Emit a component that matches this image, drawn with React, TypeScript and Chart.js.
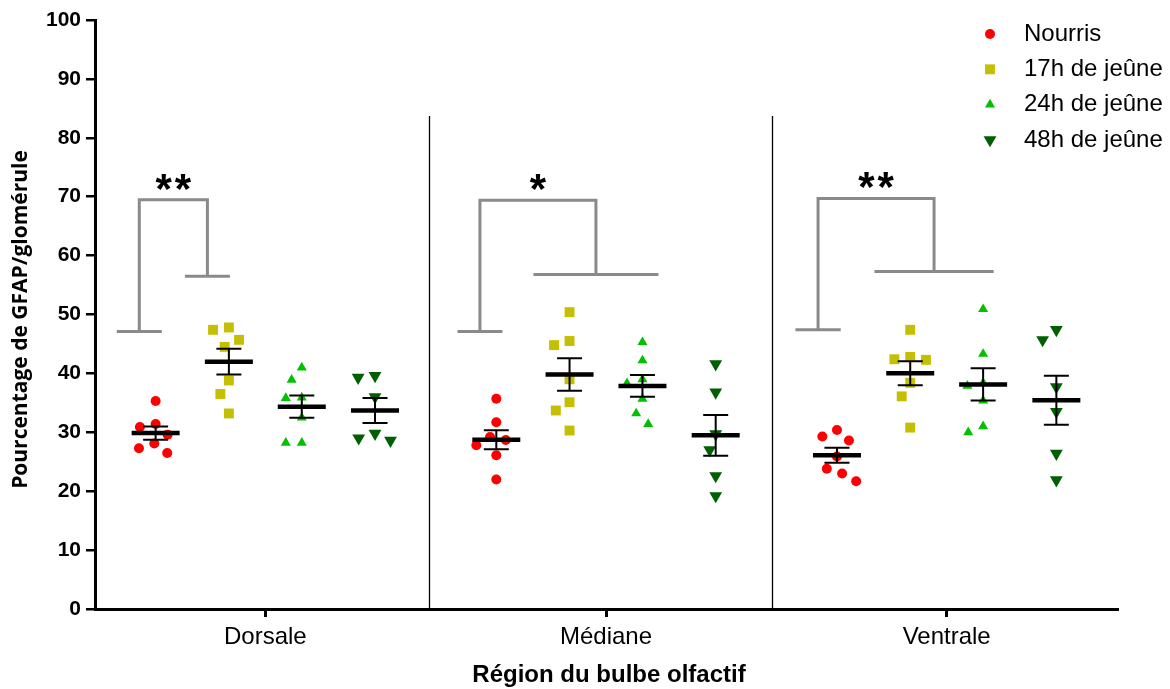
import React, { useEffect, useRef } from 'react';
import { Chart, registerables } from 'chart.js';

Chart.register(...registerables);

// ---------- data ----------
const regions = ['Dorsale', 'Médiane', 'Ventrale'];
const seriesNames = ['Nourris', '17h de jeûne', '24h de jeûne', '48h de jeûne'];

// values per region: [Dorsale, Médiane, Ventrale]
const nourris = [
  [35.3, 31.4, 30.9, 29.6, 28.1, 27.3, 26.5],
  [35.7, 31.7, 29.2, 28.7, 27.8, 26.1, 22.0],
  [30.4, 29.3, 28.6, 25.9, 23.8, 23.0, 21.7],
];
const jeune17h = [
  [47.8, 47.4, 45.7, 44.5, 38.8, 36.5, 33.2],
  [50.4, 45.5, 44.8, 39.0, 35.1, 33.7, 30.3],
  [47.4, 42.8, 42.4, 42.3, 38.4, 36.1, 30.8],
];
const jeune24h = [
  [41.0, 38.9, 35.9, 35.8, 32.5, 28.2, 28.2],
  [45.3, 42.2, 39.0, 38.3, 35.7, 33.2, 31.4],
  [50.9, 43.3, 38.4, 37.9, 35.4, 31.0, 30.0],
];
const jeune48h = [
  [39.6, 39.3, 36.0, 29.8, 29.0, 28.6],
  [41.6, 36.8, 29.7, 27.0, 22.6, 19.2],
  [47.4, 45.7, 37.7, 33.5, 26.4, 21.9],
];

const yTicks = [0, 10, 20, 30, 40, 50, 60, 70, 80, 90, 100];

// significance brackets (one per region)
const significance = ['**', '*', '**'];
const bracketTop = [69.5, 69.4, 69.7];
const bracketLeftFoot = [47.1, 47.1, 47.4];
const bracketRightFoot = [56.5, 56.8, 57.3];
const bracketLeftFootX = [[0.064, 0.196], [1.064, 1.196], [2.056, 2.189]];
const bracketRightFootX = [[0.264, 0.396], [1.287, 1.654], [2.288, 2.638]];

// ---------- styles / layout ----------
const COLORS = ['#ff0000', '#c4bf00', '#00c000', '#005f00'];
const STYLES = [
  { style: 'circle', rotation: 0, radius: 5 },
  { style: 'rect', rotation: 0, radius: 7 },
  { style: 'triangle', rotation: 0, radius: 5.8 },
  { style: 'triangle', rotation: 180, radius: 7.4 },
];
const GROUP_OFFSETS = [-0.322, -0.107, 0.107, 0.322];
const SWARM_D = [16, 16, 16, 17];
const SEPARATORS = [0.981, 1.987];
const SEPARATOR_TOP = 83.7;
const FONT = "'Liberation Sans', Arial, sans-serif";
const BRACKET_COLOR = '#8a8a8a';

function meanSem(vals: number[]) {
  const n = vals.length;
  const m = vals.reduce((a, b) => a + b, 0) / n;
  const sd = Math.sqrt(vals.reduce((a, b) => a + (b - m) * (b - m), 0) / (n - 1));
  return { m, sem: sd / Math.sqrt(n) };
}

function swarmOffsets(ys: number[], d: number): number[] {
  const idx = ys.map((_, i) => i).sort((a, b) => ys[b] - ys[a]);
  const placed: { x: number; y: number }[] = [];
  const out = new Array(ys.length).fill(0);
  for (const i of idx) {
    const y = ys[i];
    const cands = [0];
    for (const p of placed) {
      const dy = Math.abs(p.y - y);
      if (dy < d) {
        const dx = Math.sqrt(d * d - dy * dy);
        cands.push(p.x + dx + 0.01, p.x - dx - 0.01);
      }
    }
    cands.sort((a, b) => Math.abs(a) - Math.abs(b) || a - b);
    let chosen = 0;
    for (const c of cands) {
      if (placed.every((p) => (p.x - c) ** 2 + (p.y - y) ** 2 >= d * d - 0.05)) {
        chosen = c;
        break;
      }
    }
    placed.push({ x: chosen, y });
    out[i] = chosen;
  }
  return out;
}

function drawMarker(ctx: CanvasRenderingContext2D, si: number, x: number, y: number) {
  const st = STYLES[si];
  const r = st.radius;
  ctx.fillStyle = COLORS[si];
  ctx.beginPath();
  if (st.style === 'circle') {
    ctx.arc(x, y, r, 0, Math.PI * 2);
  } else if (st.style === 'rect') {
    const s = r * Math.SQRT1_2;
    ctx.rect(x - s, y - s, 2 * s, 2 * s);
  } else {
    let rad = (st.rotation * Math.PI) / 180;
    for (let k = 0; k < 3; k++) {
      const px = x + Math.sin(rad) * r;
      const py = y - Math.cos(rad) * r;
      if (k === 0) ctx.moveTo(px, py);
      else ctx.lineTo(px, py);
      rad += (2 * Math.PI) / 3;
    }
    ctx.closePath();
  }
  ctx.fill();
}

const overlayPlugin = {
  id: 'overlay',
  afterDatasetsDraw(chart: any) {
    const { ctx, scales } = chart;
    const xs = scales.x;
    const ys = scales.y;
    const series = [nourris, jeune17h, jeune24h, jeune48h];
    ctx.save();

    // region separators
    ctx.strokeStyle = '#000';
    ctx.lineWidth = 1.3;
    SEPARATORS.forEach((sx) => {
      const px = Math.round(xs.getPixelForValue(sx)) + 0.5;
      ctx.beginPath();
      ctx.moveTo(px, ys.getPixelForValue(0));
      ctx.lineTo(px, ys.getPixelForValue(SEPARATOR_TOP));
      ctx.stroke();
    });

    // significance brackets
    ctx.strokeStyle = BRACKET_COLOR;
    ctx.lineWidth = 3;
    regions.forEach((_, ri) => {
      const lf = bracketLeftFootX[ri];
      const rf = bracketRightFootX[ri];
      const lStem = xs.getPixelForValue((lf[0] + lf[1]) / 2);
      const rStem = xs.getPixelForValue((rf[0] + rf[1]) / 2);
      const yTop = ys.getPixelForValue(bracketTop[ri]);
      const yL = ys.getPixelForValue(bracketLeftFoot[ri]);
      const yR = ys.getPixelForValue(bracketRightFoot[ri]);
      ctx.beginPath();
      ctx.moveTo(xs.getPixelForValue(lf[0]), yL);
      ctx.lineTo(xs.getPixelForValue(lf[1]), yL);
      ctx.moveTo(lStem, yL);
      ctx.lineTo(lStem, yTop);
      ctx.lineTo(rStem, yTop);
      ctx.lineTo(rStem, yR);
      ctx.moveTo(xs.getPixelForValue(rf[0]), yR);
      ctx.lineTo(xs.getPixelForValue(rf[1]), yR);
      ctx.stroke();

      // asterisks
      ctx.fillStyle = '#000';
      ctx.font = `bold 42px ${FONT}`;
      (ctx as any).letterSpacing = '3px';
      ctx.textAlign = 'center';
      ctx.textBaseline = 'alphabetic';
      const tm = ctx.measureText(significance[ri]);
      const cy = yTop - 18;
      const base = cy + (tm.actualBoundingBoxAscent - tm.actualBoundingBoxDescent) / 2;
      ctx.fillText(significance[ri], (lStem + rStem) / 2 + 1.5, base);
      (ctx as any).letterSpacing = '0px';
    });

    // mean and SEM
    ctx.strokeStyle = '#000';
    series.forEach((s, si) => {
      s.forEach((vals, ri) => {
        const { m, sem } = meanSem(vals);
        const cx = xs.getPixelForValue(ri + 0.5 + GROUP_OFFSETS[si]);
        const yM = ys.getPixelForValue(m);
        const yHi = ys.getPixelForValue(m + sem);
        const yLo = ys.getPixelForValue(m - sem);
        ctx.lineWidth = 2;
        ctx.beginPath();
        ctx.moveTo(cx, yHi);
        ctx.lineTo(cx, yLo);
        ctx.moveTo(cx - 12.5, yHi);
        ctx.lineTo(cx + 12.5, yHi);
        ctx.moveTo(cx - 12.5, yLo);
        ctx.lineTo(cx + 12.5, yLo);
        ctx.stroke();
        ctx.lineWidth = 4.5;
        ctx.beginPath();
        ctx.moveTo(cx - 24, yM);
        ctx.lineTo(cx + 24, yM);
        ctx.stroke();
      });
    });
    ctx.restore();
  },
  afterDraw(chart: any) {
    const { ctx, chartArea } = chart;
    ctx.save();
    // legend
    ctx.font = `24px ${FONT}`;
    ctx.fillStyle = '#000';
    ctx.textAlign = 'left';
    ctx.textBaseline = 'middle';
    seriesNames.forEach((name, si) => {
      const y = 34 + si * 35.3;
      drawMarker(ctx, si, 990, y);
      ctx.fillStyle = '#000';
      ctx.fillText(name, 1024, y);
    });

    // axis titles
    ctx.font = `bold 24px ${FONT}`;
    ctx.textAlign = 'center';
    ctx.textBaseline = 'middle';
    ctx.fillText('Région du bulbe olfactif', (chartArea.left + chartArea.right) / 2 + 3, 675);

    ctx.translate(21, (chartArea.top + chartArea.bottom) / 2 + 5);
    ctx.rotate(-Math.PI / 2);
    ctx.font = `bold 21px 'Open Sans', sans-serif`;
    ctx.fillText('Pourcentage de GFAP/glomérule', 0, 0);
    ctx.restore();
  },
};

export default function App() {
  const ref = useRef<HTMLCanvasElement>(null);

  useEffect(() => {
    const canvas = ref.current;
    if (!canvas) return;
    const series = [nourris, jeune17h, jeune24h, jeune48h];
    const datasets = series.map((s, si) => ({
      label: seriesNames[si],
      data: s.flatMap((vals, ri) => vals.map((v) => ({ x: ri + 0.5 + GROUP_OFFSETS[si], y: v }))),
      showLine: false,
      pointStyle: STYLES[si].style,
      pointRotation: STYLES[si].rotation,
      pointRadius: STYLES[si].radius,
      pointHoverRadius: STYLES[si].radius,
      pointBackgroundColor: COLORS[si],
      pointBorderColor: COLORS[si],
      pointBorderWidth: 0,
      backgroundColor: COLORS[si],
      borderColor: COLORS[si],
    }));

    const chart = new Chart(canvas, {
      type: 'scatter',
      data: { datasets: datasets as any },
      options: {
        animation: false,
        responsive: false,
        maintainAspectRatio: false,
        events: [],
        layout: { padding: { left: 0, right: 53, top: 20, bottom: 0 } },
        plugins: { legend: { display: false }, tooltip: { enabled: false } },
        scales: {
          x: {
            type: 'linear',
            min: 0,
            max: 3,
            afterBuildTicks: (scale: any) => {
              scale.ticks = regions.map((_, i) => ({ value: i + 0.5 }));
            },
            afterFit: (scale: any) => {
              scale.height = 80;
            },
            ticks: {
              autoSkip: false,
              maxRotation: 0,
              color: '#000',
              padding: 6,
              font: { family: FONT, size: 24 },
              callback: (_v: any, i: number) => regions[i],
            },
            grid: { drawOnChartArea: false, drawTicks: true, tickLength: 8, color: '#000', lineWidth: 3 },
            border: { display: true, color: '#000', width: 3 },
          },
          y: {
            type: 'linear',
            min: 0,
            max: 100,
            afterBuildTicks: (scale: any) => {
              scale.ticks = yTicks.map((v) => ({ value: v }));
            },
            afterFit: (scale: any) => {
              scale.width = 95;
            },
            ticks: {
              color: '#000',
              padding: 5,
              font: { family: FONT, size: 21, weight: 'bold' },
              callback: (v: any) => String(v),
            },
            grid: { drawOnChartArea: false, drawTicks: true, tickLength: 9, color: '#000', lineWidth: 2.5 },
            border: { display: true, color: '#000', width: 3 },
          },
        },
      },
      plugins: [overlayPlugin],
    } as any);

    // beeswarm spread of points computed from the scales
    const xs: any = chart.scales.x;
    const ys: any = chart.scales.y;
    const pxX = xs.getPixelForValue(1) - xs.getPixelForValue(0);
    const pxY = ys.getPixelForValue(0) - ys.getPixelForValue(1);
    series.forEach((s, si) => {
      const pts: { x: number; y: number }[] = [];
      s.forEach((vals, ri) => {
        const offs = swarmOffsets(vals.map((v) => v * pxY), SWARM_D[si]);
        vals.forEach((v, k) => pts.push({ x: ri + 0.5 + GROUP_OFFSETS[si] + offs[k] / pxX, y: v }));
      });
      (chart.data.datasets[si] as any).data = pts;
    });
    chart.update('none');

    return () => chart.destroy();
  }, []);

  return (
    <div style={{ position: 'absolute', left: 0, top: 0, width: 1170, height: 689, background: '#fff' }}>
      <canvas ref={ref} width={1170} height={689} style={{ width: 1170, height: 689, display: 'block' }} />
    </div>
  );
}
